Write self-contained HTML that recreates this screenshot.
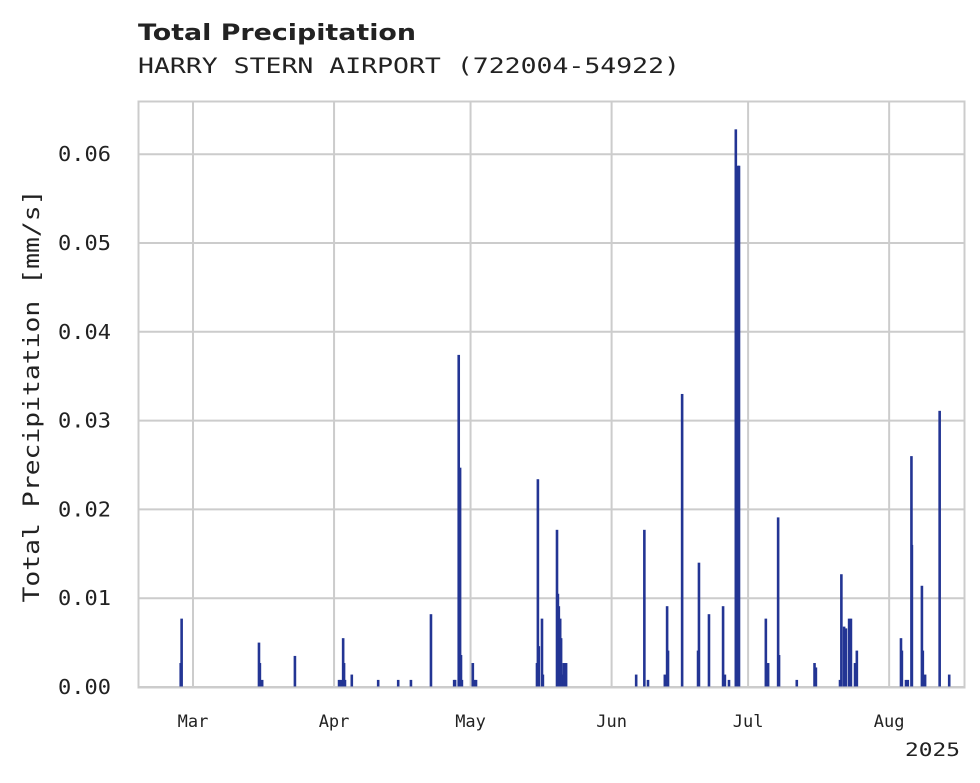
<!DOCTYPE html>
<html><head><meta charset="utf-8"><style>
body{margin:0;background:#fff;}
svg{display:block;font-family:"DejaVu Sans Mono","Liberation Mono",monospace;}
</style></head><body>
<svg id="chart" width="980" height="783">
<text x="138" y="40" font-family="DejaVu Sans, Liberation Sans, sans-serif" font-weight="bold" font-size="22" fill="#222" textLength="278" lengthAdjust="spacingAndGlyphs">Total Precipitation</text>
<text x="138" y="73" font-size="21" fill="#222" textLength="542" lengthAdjust="spacingAndGlyphs">HARRY STERN AIRPORT (722004-54922)</text>
<g id="grid"></g>
<g id="bars"></g>
<rect x="138.5" y="101.5" width="826" height="586" fill="none" stroke="#ccc" stroke-width="2"/>
<g id="ticks"></g>
<text x="960" y="756" text-anchor="end" font-size="19" fill="#222" textLength="55" lengthAdjust="spacingAndGlyphs">2025</text>
<text transform="translate(39,396) rotate(-90)" text-anchor="middle" font-size="22" fill="#222" textLength="413" lengthAdjust="spacingAndGlyphs">Total Precipitation [mm/s]</text>
</svg>
<script>
const days=[-2.7,-2.5,14.5,14.7,15.2,22.4,32.1,32.5,33.0,33.2,33.4,34.9,40.7,45.1,47.9,52.3,57.4,57.6,58.4,58.7,58.9,59.1,61.5,61.8,62.2,75.6,75.8,76.0,76.7,76.9,80.0,80.2,80.4,80.7,80.9,81.1,81.5,82.0,97.4,99.2,100.0,103.7,104.2,104.4,107.5,111.0,111.2,113.4,116.5,116.9,117.8,119.3,119.8,120.0,125.9,126.4,128.6,128.8,132.7,136.6,136.9,142.2,142.5,143.1,143.5,144.2,144.6,145.5,145.9,155.6,155.8,156.7,157.1,157.9,158.0,160.2,160.4,160.9,164.1,166.2];
const values=[0.0027,0.0077,0.005,0.0027,0.0008,0.0035,0.0008,0.0008,0.0055,0.0027,0.0008,0.0014,0.0008,0.0008,0.0008,0.0082,0.0008,0.0008,0.0374,0.0247,0.0036,0.0008,0.0027,0.0008,0.0008,0.0027,0.0234,0.0046,0.0077,0.0014,0.0177,0.0105,0.0091,0.0077,0.0055,0.0014,0.0027,0.0027,0.0014,0.0177,0.0008,0.0014,0.0091,0.0041,0.033,0.0041,0.014,0.0082,0.0091,0.0014,0.0008,0.0628,0.0587,0.0587,0.0077,0.0027,0.0191,0.0036,0.0008,0.0027,0.0022,0.0008,0.0127,0.0068,0.0066,0.0077,0.0077,0.0027,0.0041,0.0055,0.0041,0.0008,0.0008,0.026,0.016,0.0114,0.0041,0.0014,0.0311,0.0014];
const yTicks=[0,0.01,0.02,0.03,0.04,0.05,0.06];
const yTickLabels=["0.00","0.01","0.02","0.03","0.04","0.05","0.06"];
const monthDays=[0,31,61,92,122,153];
const monthLabels=["Mar","Apr","May","Jun","Jul","Aug"];
const NS="http://www.w3.org/2000/svg";
const x=d=>193+d*4.55;
const y=v=>687-v*8880;
const grid=document.getElementById('grid'),bars=document.getElementById('bars'),ticks=document.getElementById('ticks');
function mk(tag,attrs,parent){const e=document.createElementNS(NS,tag);for(const k in attrs)e.setAttribute(k,attrs[k]);parent.appendChild(e);return e;}
yTicks.forEach((v,i)=>{
 const l=mk('line',{x1:138,x2:965,y1:y(v),y2:y(v),stroke:'#ccc','stroke-width':2},grid);
 
 
 const t=mk('text',{x:111,y:y(v)+7,'text-anchor':'end','font-size':20,fill:'#222',textLength:53,lengthAdjust:'spacingAndGlyphs'},ticks);
 t.textContent=yTickLabels[i];
 
 
});
monthDays.forEach((d,i)=>{
 const l=mk('line',{x1:x(d),x2:x(d),y1:101,y2:687,stroke:'#ccc','stroke-width':2},grid);
 
 
 const t=mk('text',{x:x(d),y:727,'text-anchor':'middle','font-size':17,fill:'#222'},ticks);
 t.textContent=monthLabels[i];
 
 
});
days.forEach((d,i)=>{
 const r=mk('rect',{x:x(d)-1.3,y:y(values[i]),width:2.6,height:687-y(values[i]),fill:'#233594'},bars);
 
 
});
</script>
</body></html>
